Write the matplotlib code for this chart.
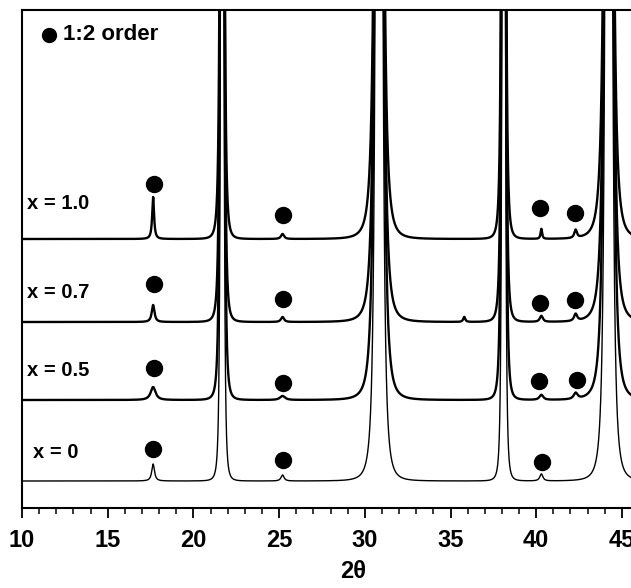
import matplotlib
matplotlib.use('Agg')
import matplotlib.pyplot as plt
import numpy as np
from matplotlib.ticker import MultipleLocator

plt.rcParams['font.family'] = ['Liberation Sans', 'DejaVu Sans']

# samples, bottom to top, and the vertical offset of each pattern
samples = ['x = 0', 'x = 0.5', 'x = 0.7', 'x = 1.0']
offsets = [27, 108, 186, 269]

# reflections (2theta) and Pearson VII exponent of each one
peakPos = [17.65, 21.68, 25.2, 30.83, 35.8, 38.1, 40.3, 42.3, 44.23]
peakShape = [1.1, 1.75, 1.2, 1.6, 1.2, 1.75, 1.2, 1.2, 1.6]

# peak heights per sample (strong peaks go far off scale)
heightsX0 = [17, 2500, 6, 3000, 0, 2500, 7, 0, 3000]
heightsX05 = [13, 2500, 4, 3000, 0, 2500, 5, 6, 3000]
heightsX07 = [17, 2500, 5, 3000, 5, 2500, 6, 7, 3000]
heightsX10 = [42, 2500, 5, 3000, 0, 2500, 10, 8, 3000]

# peak half widths per sample
widthsX0 = [0.10, 0.085, 0.12, 0.16, 0.10, 0.085, 0.12, 0.12, 0.16]
widthsX05 = [0.18, 0.10, 0.20, 0.18, 0.10, 0.10, 0.15, 0.15, 0.18]
widthsX07 = [0.10, 0.10, 0.12, 0.18, 0.08, 0.10, 0.12, 0.12, 0.18]
widthsX10 = [0.07, 0.10, 0.12, 0.18, 0.10, 0.10, 0.06, 0.10, 0.18]

# 1:2 order superlattice marks (2theta, height)
orderPosX0 = [17.66, 25.21, 40.32]
orderYX0 = [59, 48, 46]
orderPosX05 = [17.70, 25.21, 40.18, 42.36]
orderYX05 = [140, 125, 127, 128]
orderPosX07 = [17.72, 25.21, 40.22, 42.26]
orderYX07 = [224, 209, 205, 208]
orderPosX10 = [17.72, 25.25, 40.22, 42.26]
orderYX10 = [324, 293, 300, 295]

heights = [heightsX0, heightsX05, heightsX07, heightsX10]
widths = [widthsX0, widthsX05, widthsX07, widthsX10]
orderPos = [orderPosX0, orderPosX05, orderPosX07, orderPosX10]
orderY = [orderYX0, orderYX05, orderYX07, orderYX10]


def pattern(x, pos, height, width, shape):
    y = np.zeros_like(x)
    for c, h, w, m in zip(pos, height, width, shape):
        y += h * (1 + ((x - c) / w) ** 2) ** (-m)
    return y


twoTheta = np.linspace(10, 45.6, 6000)

fig = plt.figure(figsize=(6.31, 5.88), dpi=100)
ax = fig.add_axes([22 / 631, 80 / 588, 609 / 631, 498 / 588])

for i in range(len(samples)):
    y = offsets[i] + pattern(twoTheta, peakPos, heights[i], widths[i], peakShape)
    lw = 1.0 if i == 0 else 1.7
    ax.plot(twoTheta, y, color='black', lw=lw)
    ax.plot(orderPos[i], orderY[i], 'o', color='black', ms=11.5)

# sample labels
labelSpots = [(10.64, 55), (10.29, 138), (10.29, 216), (10.29, 305)]
for name, (lx, ly) in zip(samples, labelSpots):
    ax.text(lx, ly, name, fontsize=14.5, fontweight='bold', va='center', ha='left')

# key for the markers
ax.plot([11.58], [473], 'o', color='black', ms=10)
ax.text(12.4, 473, '1:2 order', fontsize=16, fontweight='bold', va='center', ha='left')

ax.set_xlim(10, 45.53)
ax.set_ylim(0, 498)
ax.set_yticks([])
ax.xaxis.set_major_locator(MultipleLocator(5))
ax.xaxis.set_minor_locator(MultipleLocator(1))
ax.tick_params(axis='x', which='major', length=7, width=1.3, pad=8, labelsize=17)
ax.tick_params(axis='x', which='minor', length=4, width=1.1)
for lab in ax.get_xticklabels():
    lab.set_fontweight('bold')
ax.spines['right'].set_visible(False)
for s in ['left', 'top', 'bottom']:
    ax.spines[s].set_linewidth(1.5)

ax.set_xlabel('2θ', fontsize=17, fontweight='bold')
ax.xaxis.set_label_coords(331 / 609, -0.105)

fig.savefig('out.png', dpi=100)
